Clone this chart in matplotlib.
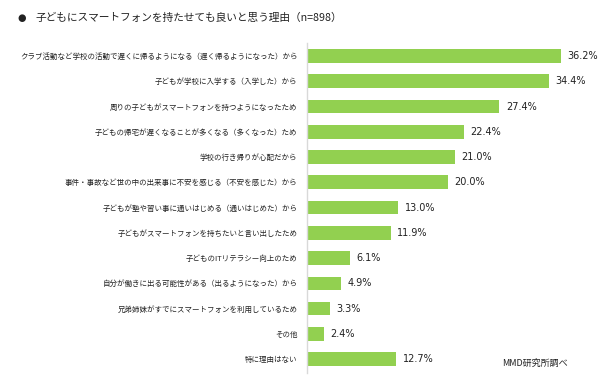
import matplotlib
matplotlib.use("Agg")
import matplotlib.pyplot as plt

plt.rcParams['font.family'] = ['Noto Sans CJK JP', 'DejaVu Sans']

categories = [
    "クラブ活動など学校の活動で遅くに帰るようになる（遅く帰るようになった）から",
    "子どもが学校に入学する（入学した）から",
    "周りの子どもがスマートフォンを持つようになったため",
    "子どもの帰宅が遅くなることが多くなる（多くなった）ため",
    "学校の行き帰りが心配だから",
    "事件・事故など世の中の出来事に不安を感じる（不安を感じた）から",
    "子どもが塾や習い事に通いはじめる（通いはじめた）から",
    "子どもがスマートフォンを持ちたいと言い出したため",
    "子どものITリテラシー向上のため",
    "自分が働きに出る可能性がある（出るようになった）から",
    "兄弟姉妹がすでにスマートフォンを利用しているため",
    "その他",
    "特に理由はない",
]
values = [36.2, 34.4, 27.4, 22.4, 21.0, 20.0, 13.0, 11.9, 6.1, 4.9, 3.3, 2.4, 12.7]
title = "子どもにスマートフォンを持たせても良いと思う理由（n=898）"
source = "MMD研究所調べ"

W, H = 600, 375
fig = plt.figure(figsize=(W / 100, H / 100), dpi=100)
fig.patch.set_facecolor("white")

ax_left, ax_right = 307 / W, 588 / W
ax_top, ax_bot = 43 / H, 373 / H
ax = fig.add_axes([ax_left, 1 - ax_bot, ax_right - ax_left, ax_bot - ax_top])

ypos = list(range(len(categories)))
ax.barh(ypos, values, height=0.54, color="#92D050", edgecolor="none")
ax.set_xlim(0, 40)
ax.set_ylim(12.55, -0.515)

for s in ["top", "right", "bottom"]:
    ax.spines[s].set_visible(False)
ax.spines["left"].set_color("#D9D9D9")
ax.spines["left"].set_linewidth(1.0)
ax.set_xticks([])
ax.set_yticks(ypos)
ax.set_yticklabels(categories, fontsize=5.4, color="#222222")
ax.tick_params(axis="y", length=0, pad=7)

for y, v in zip(ypos, values):
    ax.text(v + 0.9, y, f"{v:.1f}%", va="center", ha="left", fontsize=7,
            color="#222222", family=["DejaVu Sans"])

fig.text(17 / W, 1 - 18 / H, "●", fontsize=7, color="#222222", va="center", ha="left",
         family=["DejaVu Sans"])
fig.text(36 / W, 1 - 18 / H, title, fontsize=7.7, color="#222222", va="center", ha="left")
fig.text(502 / W, 1 - 363 / H, source, fontsize=6.5, color="#222222", va="center", ha="left")

fig.savefig("out.png", dpi=100)
